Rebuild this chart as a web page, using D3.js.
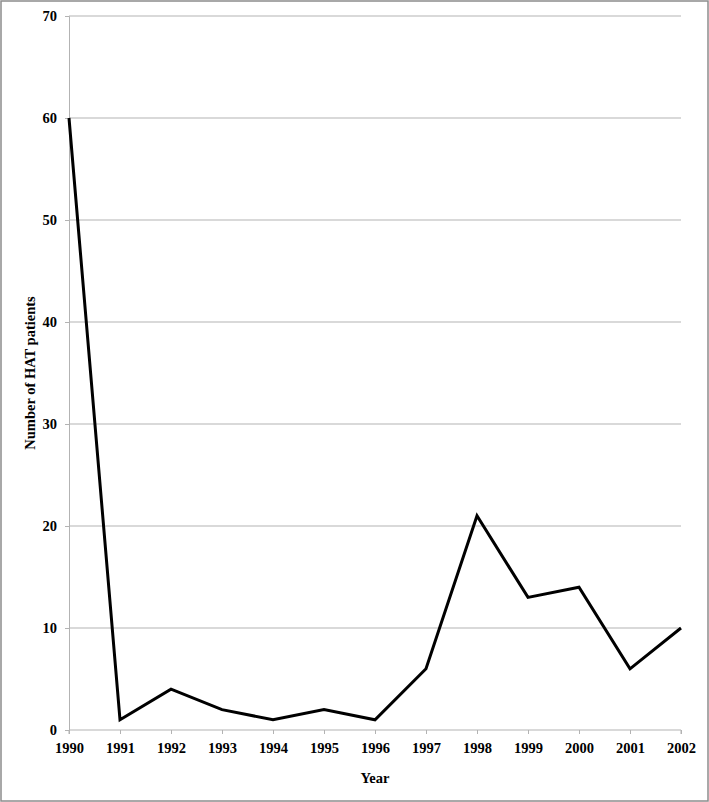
<!DOCTYPE html>
<html>
<head>
<meta charset="utf-8">
<script src="https://cdn.jsdelivr.net/npm/d3@7"></script>
<style>
  html, body { margin: 0; padding: 0; background: #fff; }
  svg text { font-family: "Liberation Serif", "Times New Roman", serif; font-weight: bold; fill: #000; }
</style>
</head>
<body>
<div id="chart"></div>
<script>
// data
const years = ['1990', '1991', '1992', '1993', '1994', '1995', '1996', '1997', '1998', '1999', '2000', '2001', '2002'];
const patients = [60, 1, 4, 2, 1, 2, 1, 6, 21, 13, 14, 6, 10];
const yTicks = [0, 10, 20, 30, 40, 50, 60, 70];

const width = 709, height = 802;
const margin = { top: 16, right: 28, bottom: 72, left: 69 };
const innerW = width - margin.left - margin.right;
const innerH = height - margin.top - margin.bottom;

const svg = d3.select('#chart')
  .append('svg')
  .attr('width', width)
  .attr('height', height);

// outer frame
svg.append('rect')
  .attr('x', 1).attr('y', 1)
  .attr('width', width - 2).attr('height', height - 2)
  .style('fill', 'none')
  .style('stroke', '#8c8c8c')
  .style('stroke-width', '1.5px');

const g = svg.append('g')
  .attr('transform', `translate(${margin.left},${margin.top})`);

const x = d3.scalePoint().domain(years).range([0, innerW]);
const y = d3.scaleLinear().domain([0, 70]).range([innerH, 0]);

// gridlines
g.append('g')
  .selectAll('line')
  .data(yTicks.filter(d => d > 0))
  .enter()
  .append('line')
  .attr('x1', 0).attr('x2', innerW)
  .attr('y1', d => y(d)).attr('y2', d => y(d))
  .style('stroke', '#b3b3b3')
  .style('stroke-width', '1px');

// y axis
const yAxis = g.append('g')
  .call(d3.axisLeft(y).tickValues(yTicks).tickSize(4).tickPadding(8));
yAxis.select('.domain').style('stroke', '#b3b3b3');
yAxis.selectAll('.tick line').style('stroke', '#b3b3b3');
yAxis.selectAll('text').style('font-size', '14.5px').style('font-family', null);

// x axis
const xAxis = g.append('g')
  .attr('transform', `translate(0,${innerH})`)
  .call(d3.axisBottom(x).tickSize(4).tickPadding(9));
xAxis.select('.domain').attr('d', `M0,4V0H${innerW}V4`).style('stroke', '#b3b3b3');
xAxis.selectAll('.tick line').style('stroke', '#b3b3b3');
xAxis.selectAll('text').style('font-size', '14.5px').style('font-family', null);

// axis titles
svg.append('text')
  .attr('x', margin.left + innerW / 2)
  .attr('y', 783)
  .attr('text-anchor', 'middle')
  .style('font-size', '14.5px')
  .text('Year');

svg.append('text')
  .attr('transform', `translate(35,${margin.top + innerH / 2}) rotate(-90)`)
  .attr('text-anchor', 'middle')
  .style('font-size', '14.5px')
  .text('Number of HAT patients');

// series line
const line = d3.line()
  .x((d, i) => x(years[i]))
  .y(d => y(d));

g.append('path')
  .datum(patients)
  .attr('d', line)
  .style('fill', 'none')
  .style('stroke', '#000')
  .style('stroke-width', '3px')
  .style('stroke-linejoin', 'miter');
</script>
</body>
</html>
